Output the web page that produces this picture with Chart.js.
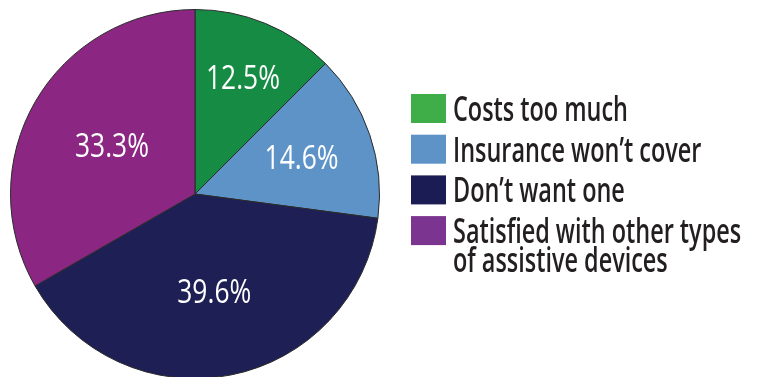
<!DOCTYPE html>
<html>
<head>
<meta charset="utf-8">
<script src="https://cdn.jsdelivr.net/npm/chart.js@4.4.0/dist/chart.umd.min.js"></script>
<style>
  html, body { margin: 0; padding: 0; background: #fff; overflow: hidden; }
  #reasonChart { display: block; }
</style>
</head>
<body>
<canvas id="reasonChart" width="768" height="400"></canvas>
<script>
const reasons = [
    "Costs too much",
    "Insurance won\u2019t cover",
    "Don\u2019t want one",
    ["Satisfied with other types", "of assistive devices"]
];
const percents = [12.5, 14.6, 39.6, 33.3];
const sliceColors = ["#168b44", "#5e93c8", "#1e1f55", "#8b2783"];
const keyColors = ["#3fae49", "#5e93c8", "#1c1c54", "#7b3590"];
const labelDepth = [0.68, 0.61, 0.54, 0.52];

const KEY_FONT = "600 34px 'Open Sans', 'DejaVu Sans', sans-serif";
const PCT_FONT = "32px 'Open Sans', 'DejaVu Sans', sans-serif";
const CAP = 22;

// condensed look: squeeze text horizontally to a reference width
function squeeze(ctx, font, sample, target) {
    ctx.save();
    ctx.font = font;
    const w = ctx.measureText(sample).width;
    ctx.restore();
    return target / w;
}

function narrowText(ctx, text, x, y, sx, align) {
    ctx.save();
    ctx.translate(x, y);
    ctx.scale(sx, 1);
    ctx.textAlign = align;
    ctx.fillText(text, 0, 0);
    ctx.restore();
}

// percentage text inside each slice
const sliceLabels = {
    id: 'sliceLabels',
    afterDatasetsDraw(chart) {
        const ctx = chart.ctx;
        const meta = chart.getDatasetMeta(0);
        const sx = squeeze(ctx, PCT_FONT, "12.5%", 74);
        ctx.save();
        ctx.font = PCT_FONT;
        ctx.fillStyle = "#ffffff";
        ctx.textBaseline = "alphabetic";
        meta.data.forEach((arc, i) => {
            const p = arc.getProps(['x', 'y', 'startAngle', 'endAngle', 'outerRadius'], true);
            const mid = (p.startAngle + p.endAngle) / 2;
            const r = p.outerRadius * labelDepth[i];
            narrowText(ctx, percents[i] + "%", p.x + Math.cos(mid) * r, p.y + Math.sin(mid) * r + CAP / 2, sx, "center");
        });
        ctx.restore();
    }
};

// legend on the right with square swatches
const sideKey = {
    id: 'sideKey',
    afterDraw(chart) {
        const ctx = chart.ctx;
        const sx = squeeze(ctx, KEY_FONT, "Costs too much", 175);
        ctx.save();
        ctx.font = KEY_FONT;
        ctx.textBaseline = "alphabetic";
        let y = 94;
        reasons.forEach((txt, i) => {
            ctx.fillStyle = keyColors[i];
            ctx.fillRect(411, y, 35, 29);
            ctx.fillStyle = "#231f20";
            const lines = Array.isArray(txt) ? txt : [txt];
            lines.forEach((line, j) => {
                narrowText(ctx, line, 453, y + 27 + j * 29, sx, "left");
            });
            y += 40.7;
        });
        ctx.restore();
    }
};

const ctx = document.getElementById('reasonChart').getContext('2d');
const reasonChart = new Chart(ctx, {
    type: 'pie',
    data: {
        labels: reasons.map(r => Array.isArray(r) ? r.join(' ') : r),
        datasets: [{
            data: percents,
            backgroundColor: sliceColors,
            borderColor: "#2b2b2b",
            borderWidth: 1
        }]
    },
    options: {
        responsive: false,
        animation: false,
        layout: {
            padding: { left: 10, right: 388, top: 9, bottom: 21 }
        },
        plugins: {
            legend: { display: false },
            tooltip: { enabled: false }
        }
    },
    plugins: [sliceLabels, sideKey]
});
</script>
</body>
</html>
